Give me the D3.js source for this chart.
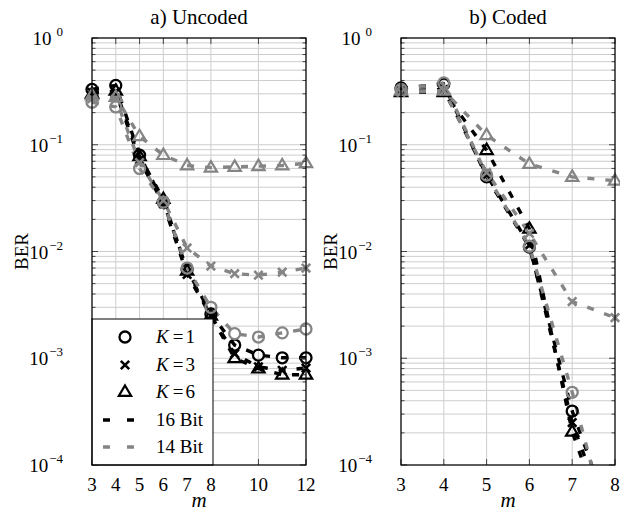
<!DOCTYPE html>
<html><head><meta charset="utf-8">
<script src="https://cdn.jsdelivr.net/npm/d3@7"></script>
<style>body{margin:0;background:#fff}svg{display:block}</style>
</head><body><svg id="c" width="620" height="515" font-family="'Liberation Serif', 'Times New Roman', 'DejaVu Serif', serif"></svg>
<script>
// ---- data ----
const mUncoded = [3,4,5,6,7,8,9,10,11,12];
const unc16K1 = [0.33,0.36,0.080,0.029,0.0068,0.0026,0.00133,0.00107,0.00101,0.00101];
const unc16K3 = [0.31,0.31,0.072,0.028,0.0061,0.0025,0.0011,0.00083,0.00077,0.00081];
const unc16K6 = [0.30,0.32,0.078,0.031,0.0066,0.0025,0.00100,0.00080,0.00070,0.00070];
const unc14K1 = [0.25,0.226,0.060,0.029,0.0070,0.0030,0.0017,0.00158,0.00173,0.00188];
const unc14K3 = [0.27,0.27,0.068,0.030,0.0108,0.0073,0.0062,0.0060,0.0064,0.0070];
const unc14K6 = [0.29,0.28,0.12,0.080,0.064,0.061,0.062,0.063,0.064,0.067];

const mCoded = [3,4,5,6,7,8];
const cod16K1 = [0.34,0.37,0.050,0.011,0.00032,0.000025];
const cod16K3 = [0.32,0.33,0.052,0.0115,0.00025,0.00002];
const cod16K6 = [0.31,0.31,0.089,0.0163,0.000205,0.000015];
const cod14K1 = [0.33,0.38,0.052,0.0112,0.00048,0.000015];
const cod14K3 = [0.31,0.32,0.055,0.0148,0.0034,0.0024];
const cod14K6 = [0.32,0.32,0.123,0.066,0.050,0.046];

const xTicksUncoded = [3,4,5,6,7,8,10,12];
const xTicksCoded = [3,4,5,6,7,8];
const yDecades = [0,-1,-2,-3,-4];
const titles = ["a) Uncoded","b) Coded"];
const legendLabels = ["K = 1","K = 3","K = 6","16 Bit","14 Bit"];

const BLACK = "#000", GRAY = "#858585";
const FONT = "'Liberation Serif', 'Times New Roman', 'DejaVu Serif', serif";
const svg = d3.select("#c");

function marker(g, type, x, y, color){
  if(type==="circle"){
    g.append("circle").attr("cx",x).attr("cy",y).attr("r",5.5).attr("fill","none").attr("stroke",color).attr("stroke-width",2.3);
  } else if(type==="cross"){
    const s=4.2;
    g.append("path").attr("d",`M${x-s},${y-s}L${x+s},${y+s}M${x-s},${y+s}L${x+s},${y-s}`).attr("stroke",color).attr("stroke-width",2.6).attr("fill","none");
  } else {
    const s=6.5;
    g.append("path").attr("d",`M${x},${y-s}L${x+s*0.95},${y+s*0.6}L${x-s*0.95},${y+s*0.6}Z`).attr("fill","none").attr("stroke",color).attr("stroke-width",2.2).attr("stroke-linejoin","miter");
  }
}

function txt(g){ return g.append("text").attr("font-family",FONT).attr("fill","#000"); }

function panel(idx, x0, x1, mVals, domainMax, xTicks, series){
  const y0=38, y1=465;
  const x = d3.scaleLinear().domain([3,domainMax]).range([x0,x1]);
  const y = d3.scaleLog().domain([1e-4,1]).range([y1,y0]);
  const g = svg.append("g");
  const minor=[];
  for(let e=-4;e<0;e++) for(let k=1;k<10;k++) minor.push(k*Math.pow(10,e));
  g.selectAll(".hg").data(minor.concat([1])).enter().append("line")
    .attr("x1",x0).attr("x2",x1).attr("y1",d=>y(d)).attr("y2",d=>y(d))
    .attr("stroke","#cdcdcd").attr("stroke-width",1);
  g.selectAll(".vg").data(xTicks).enter().append("line")
    .attr("x1",d=>x(d)).attr("x2",d=>x(d)).attr("y1",y0).attr("y2",y1)
    .attr("stroke","#cdcdcd").attr("stroke-width",1);
  const cid="clip"+idx;
  svg.append("defs").append("clipPath").attr("id",cid).append("rect")
    .attr("x",x0).attr("y",y0).attr("width",x1-x0).attr("height",y1-y0);
  const line = d3.line().x((d,i)=>x(mVals[i])).y(d=>y(d));
  const lg = g.append("g").attr("clip-path",`url(#${cid})`);
  const mg = g.append("g");
  series.forEach(s=>{
    lg.append("path").attr("d",line(s.v)).attr("fill","none").attr("stroke",s.c)
      .attr("stroke-width",3.4).attr("stroke-dasharray","7,11");
  });
  series.forEach(s=>{
    s.v.forEach((v,i)=>{ if(v>=1e-4) marker(mg,s.m,x(mVals[i]),y(v),s.c); });
  });
  return {g,x,y,x0,x1,y0,y1};
}

function frame(p, xTicks, legend){
  const {g,x,y,x0,x1,y0,y1}=p;
  const minor=[];
  for(let e=-4;e<0;e++) for(let k=2;k<10;k++) minor.push(k*Math.pow(10,e));
  minor.forEach(d=>{
    g.append("line").attr("x1",x0).attr("x2",x0+3.5).attr("y1",y(d)).attr("y2",y(d)).attr("stroke","#444").attr("stroke-width",1);
    g.append("line").attr("x1",x1).attr("x2",x1-3.5).attr("y1",y(d)).attr("y2",y(d)).attr("stroke","#444").attr("stroke-width",1);
  });
  yDecades.forEach(e=>{
    const yy=y(Math.pow(10,e));
    g.append("line").attr("x1",x0).attr("x2",x0+6).attr("y1",yy).attr("y2",yy).attr("stroke","#444");
    g.append("line").attr("x1",x1).attr("x2",x1-6).attr("y1",yy).attr("y2",yy).attr("stroke","#444");
    const t=txt(g).attr("x",x0-29).attr("y",yy+7).attr("text-anchor","end").attr("font-size",19);
    t.append("tspan").text("10");
    t.append("tspan").attr("dx",e===0?5:1).attr("dy",-9).attr("font-size",13).text(e===0?"0":"\u2212"+(-e));
  });
  xTicks.forEach(d=>{
    g.append("line").attr("x1",x(d)).attr("x2",x(d)).attr("y1",y0).attr("y2",y0+6).attr("stroke","#444");
    g.append("line").attr("x1",x(d)).attr("x2",x(d)).attr("y1",y1).attr("y2",y1-6).attr("stroke","#444");
    txt(g).attr("x",x(d)).attr("y",491).attr("text-anchor","middle").attr("font-size",19).text(d);
  });
  if(legend) legend(g);
  g.append("rect").attr("x",x0).attr("y",y0).attr("width",x1-x0).attr("height",y1-y0)
    .attr("fill","none").attr("stroke","#000").attr("stroke-width",1.2);
  txt(g).attr("x",(x0+x1)/2).attr("y",507).attr("text-anchor","middle")
    .attr("font-size",21).attr("font-style","italic").text("m");
  txt(g).attr("transform",`translate(${x0-64},${(y0+y1)/2}) rotate(-90)`)
    .attr("text-anchor","middle").attr("font-size",19).text("BER");
}

function legendFn(g){
  const lx=92, ly=319, lw=121, lh=146;
  g.append("rect").attr("x",lx).attr("y",ly).attr("width",lw).attr("height",lh).attr("fill","#fff").attr("stroke","#000").attr("stroke-width",1);
  const rows=[337,365,392,420,447];
  const types=["circle","cross","tri"];
  rows.forEach((ry,i)=>{
    if(i<3){
      marker(g,types[i],125,ry,BLACK);
      const t=txt(g).attr("x",156).attr("y",ry+6).attr("font-size",19);
      const parts=legendLabels[i].split(" = ");
      t.append("tspan").attr("font-style","italic").text(parts[0]);
      t.append("tspan").attr("dx",4).text("=");
      t.append("tspan").attr("dx",2).text(parts[1]);
    } else {
      g.append("line").attr("x1",103).attr("x2",134).attr("y1",ry).attr("y2",ry)
        .attr("stroke",i===3?BLACK:GRAY).attr("stroke-width",3.4).attr("stroke-dasharray","7,17");
      txt(g).attr("x",156).attr("y",ry+6).attr("font-size",19).text(legendLabels[i]);
    }
  });
}

const sU=[
  {v:unc16K1,c:BLACK,m:"circle"},{v:unc16K3,c:BLACK,m:"cross"},{v:unc16K6,c:BLACK,m:"tri"},
  {v:unc14K1,c:GRAY,m:"circle"},{v:unc14K3,c:GRAY,m:"cross"},{v:unc14K6,c:GRAY,m:"tri"}];
const sC=[
  {v:cod16K1,c:BLACK,m:"circle"},{v:cod16K3,c:BLACK,m:"cross"},{v:cod16K6,c:BLACK,m:"tri"},
  {v:cod14K1,c:GRAY,m:"circle"},{v:cod14K3,c:GRAY,m:"cross"},{v:cod14K6,c:GRAY,m:"tri"}];

const p1=panel(0,92,306,mUncoded,12,xTicksUncoded,sU);
frame(p1,xTicksUncoded,legendFn);
const p2=panel(1,401,615,mCoded,8,xTicksCoded,sC);
frame(p2,xTicksCoded,null);

txt(svg).attr("x",199).attr("y",24).attr("text-anchor","middle").attr("font-size",21).text(titles[0]);
txt(svg).attr("x",508).attr("y",24).attr("text-anchor","middle").attr("font-size",21).text(titles[1]);
</script></body></html>
